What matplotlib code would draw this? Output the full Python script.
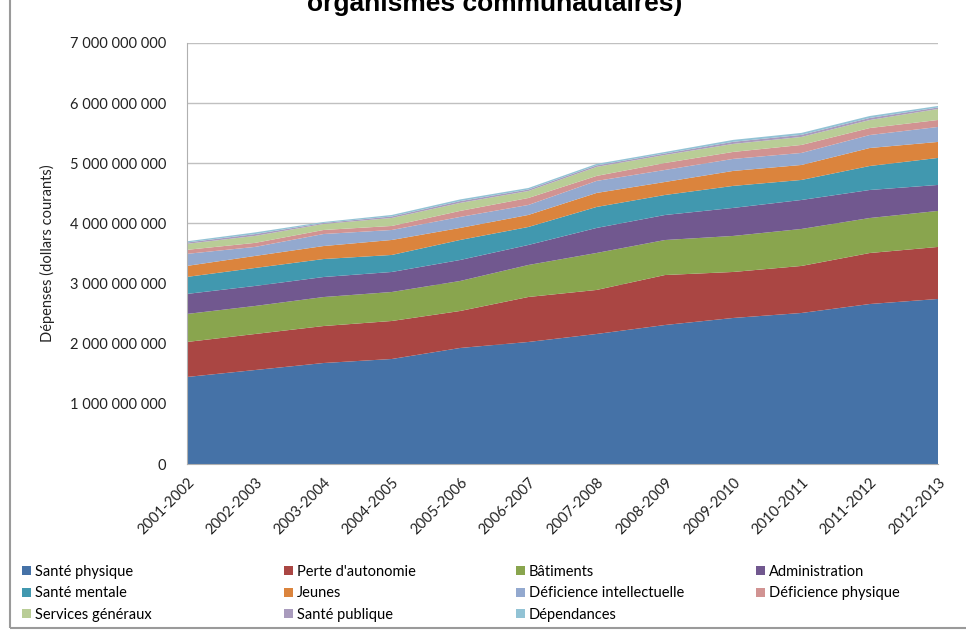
import numpy as np
import matplotlib.pyplot as plt
from matplotlib.patches import Rectangle
from matplotlib.ticker import FuncFormatter

# Depenses par programme-service (dollars courants), 2001-2002 a 2012-2013
years = ['2001-2002', '2002-2003', '2003-2004', '2004-2005', '2005-2006', '2006-2007',
         '2007-2008', '2008-2009', '2009-2010', '2010-2011', '2011-2012', '2012-2013']

sante_physique = [1447, 1563, 1679, 1746, 1929, 2029, 2162, 2311, 2428, 2511, 2660, 2744]
perte_autonomie = [582, 599, 615, 632, 615, 748, 732, 831, 765, 782, 848, 865]
batiments = [466, 466, 482, 482, 499, 532, 615, 582, 599, 615, 582, 599]
administration = [333, 333, 333, 333, 349, 333, 416, 416, 466, 482, 466, 432]
sante_mentale = [283, 299, 299, 283, 333, 299, 349, 333, 366, 333, 399, 449]
jeunes = [183, 200, 216, 249, 200, 200, 233, 216, 249, 249, 299, 266]
deficience_intel = [200, 150, 200, 166, 183, 166, 200, 200, 200, 200, 216, 249]
deficience_phys = [67, 67, 67, 67, 100, 116, 83, 116, 116, 133, 116, 116]
services_generaux = [100, 116, 100, 133, 133, 116, 150, 133, 133, 133, 133, 183]
sante_publique = [22, 30, 17, 25, 30, 25, 25, 25, 35, 35, 35, 25]
dependances = [20, 28, 16, 25, 28, 25, 25, 25, 32, 32, 32, 25]

labels = ['Santé physique', "Perte d'autonomie", 'Bâtiments', 'Administration',
          'Santé mentale', 'Jeunes', 'Déficience intellectuelle', 'Déficience physique',
          'Services généraux', 'Santé publique', 'Dépendances']
colors = ['#4572A7', '#AA4643', '#89A54E', '#71588F', '#4198AF', '#DB843D',
          '#93A9CF', '#D19392', '#B9CD96', '#A99BBD', '#92C3D5']

series = np.array([sante_physique, perte_autonomie, batiments, administration,
                   sante_mentale, jeunes, deficience_intel, deficience_phys,
                   services_generaux, sante_publique, dependances]) * 1e6

plt.rcParams['font.family'] = ['Lato', 'DejaVu Sans']

fig = plt.figure(figsize=(9.66, 6.31), dpi=100)
ax = fig.add_axes([187/966, 1 - 464/631, (938-187)/966, (464-43)/631])

x = np.arange(len(years))
polys = ax.stackplot(x, series, colors=colors, labels=labels, linewidth=0)

ax.set_xlim(0, len(years) - 1)
ax.set_ylim(0, 7e9)
ax.set_yticks(np.arange(0, 8e9, 1e9))
ax.yaxis.set_major_formatter(FuncFormatter(lambda v, p: f'{v:,.0f}'.replace(',', ' ')))
ax.grid(axis='y', color='#c0c0c0', linewidth=1)
ax.set_axisbelow(True)
ax.set_xticks(x)
ax.set_xticklabels(years, rotation=45, ha='right', va='top', rotation_mode='anchor')
ax.tick_params(axis='x', length=0, pad=8, labelsize=10.5, colors='#222222')
ax.tick_params(axis='y', length=0, pad=15, labelsize=10.5, colors='#222222')

for side in ['top', 'right']:
    ax.spines[side].set_visible(False)
ax.spines['left'].set_color('#b0b0b0')
ax.spines['bottom'].set_color('#b0b0b0')

ax.set_ylabel('Dépenses (dollars courants)', fontsize=10.5, color='#222222')
ax.yaxis.set_label_coords(-132/751, 0.5)

# titre (deuxieme ligne seulement, le haut est coupe par le cadre)
fig.text(0.512, 1 - 11/631, 'organismes communautaires)', ha='center', va='baseline',
         fontsize=19, fontweight='bold', family=['Liberation Sans', 'DejaVu Sans'])

# legende en 4 colonnes, remplie ligne par ligne
col_x = [22, 284, 516, 756]
for c in range(4):
    idx = list(range(c, len(labels), 4))
    fig.legend([polys[i] for i in idx], [labels[i] for i in idx],
               loc='upper left', bbox_to_anchor=(col_x[c]/966, 1 - 565/631),
               frameon=False, fontsize=10.5, handlelength=0.6, handleheight=0.6,
               handletextpad=0.3, labelspacing=0.5, borderaxespad=0, borderpad=0)

fig.patches.append(Rectangle((10/966, 3/631), 1.2, 1.2, transform=fig.transFigure,
                             fill=False, edgecolor='#9a9a9a', linewidth=1.5))

fig.savefig('out.png', dpi=100)
